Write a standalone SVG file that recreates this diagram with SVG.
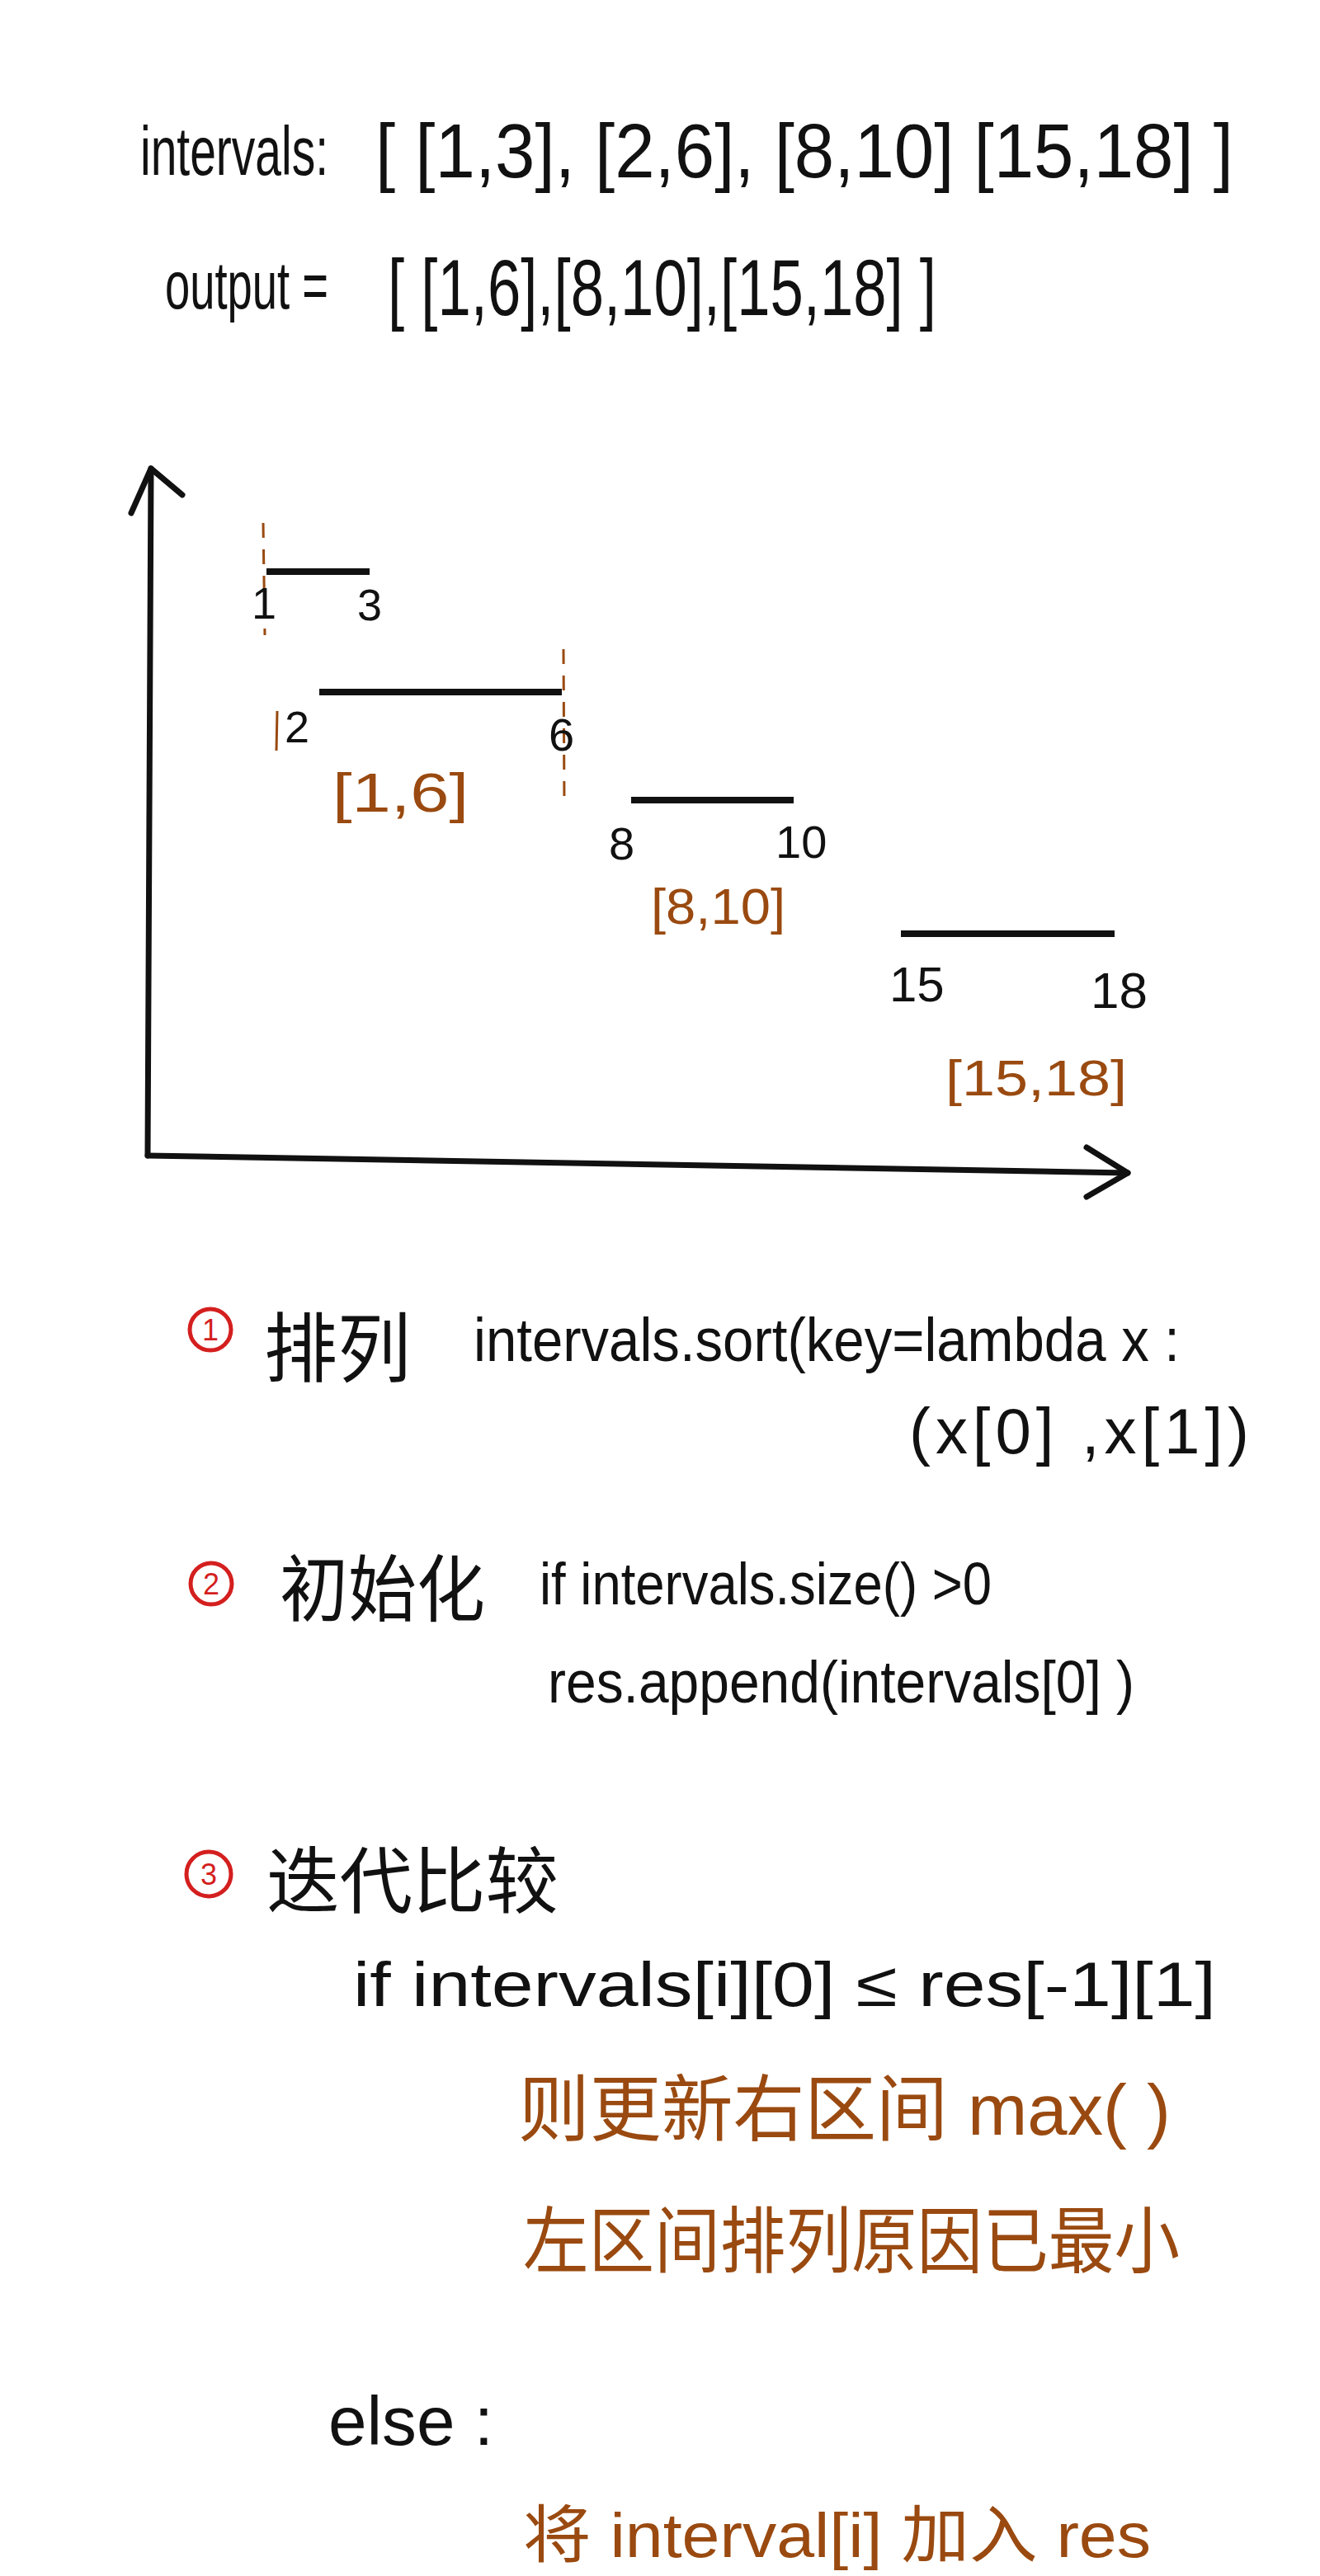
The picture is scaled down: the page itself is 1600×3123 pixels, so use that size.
<svg xmlns="http://www.w3.org/2000/svg" width="1600" height="3123" viewBox="0 0 1600 3123">
<style>
.t{font-family:"Liberation Sans","Noto Sans CJK SC",sans-serif;fill:#111}
.o{font-family:"Liberation Sans","Noto Sans CJK SC",sans-serif;fill:#9a4a10}
.r{fill:none;stroke:#d41f1f;stroke-width:5}
.rn{font-family:"Liberation Sans",sans-serif;fill:#d41f1f;font-size:36px;text-anchor:middle}
.ax{fill:none;stroke:#111;stroke-width:7;stroke-linecap:round;stroke-linejoin:round}
.seg{stroke:#111;stroke-width:8}
.dash{stroke:#9a4a10;stroke-width:3;stroke-dasharray:18 14}
</style>
<rect width="1600" height="3123" fill="#ffffff"/>
<g id="input">
<text class="t" transform="translate(170,212) scale(1,1.45)" x="0" y="0" font-size="57" textLength="228" lengthAdjust="spacingAndGlyphs">intervals:</text>
<text class="t" x="455" y="215" font-size="92" textLength="1040" lengthAdjust="spacingAndGlyphs">[ [1,3], [2,6], [8,10] [15,18] ]</text>
</g>
<g id="output">
<text class="t" transform="translate(200,374) scale(1,1.5)" x="0" y="0" font-size="54" textLength="198" lengthAdjust="spacingAndGlyphs">output =</text>
<text class="t" x="470" y="382" font-size="96" textLength="665" lengthAdjust="spacingAndGlyphs">[ [1,6],[8,10],[15,18] ]</text>
</g>
<g id="chart">
<polyline class="ax" points="179,1401 183,568"/>
<polyline class="ax" points="159,622 183,568 221,600"/>
<polyline class="ax" points="179,1401 1367,1422"/>
<polyline class="ax" points="1317,1391 1367,1422 1317,1451"/>
<line class="seg" x1="323" y1="693" x2="448" y2="693"/>
<line class="seg" x1="387" y1="839" x2="681" y2="839"/>
<line class="seg" x1="765" y1="970" x2="962" y2="970"/>
<line class="seg" x1="1092" y1="1132" x2="1351" y2="1132"/>
<line class="dash" x1="319" y1="634" x2="321" y2="770"/>
<line class="dash" x1="683" y1="787" x2="684" y2="976"/>
<line stroke="#9a4a10" stroke-width="3" x1="336" y1="862" x2="335" y2="910"/>
<text class="t" x="305" y="750" font-size="54">1</text>
<text class="t" x="433" y="752" font-size="54">3</text>
<text class="t" x="345" y="900" font-size="54">2</text>
<text class="t" x="665" y="910" font-size="56">6</text>
<text class="t" x="738" y="1042" font-size="56">8</text>
<text class="t" x="940" y="1040" font-size="56">10</text>
<text class="t" x="1078" y="1214" font-size="60">15</text>
<text class="t" x="1322" y="1222" font-size="62">18</text>
<text class="o" x="403" y="984" font-size="66" textLength="165" lengthAdjust="spacingAndGlyphs">[1,6]</text>
<text class="o" x="789" y="1120" font-size="62" textLength="163" lengthAdjust="spacingAndGlyphs">[8,10]</text>
<text class="o" x="1146" y="1328" font-size="62" textLength="220" lengthAdjust="spacingAndGlyphs">[15,18]</text>
</g>
<g id="step1">
<circle class="r" cx="255" cy="1612" r="25"/>
<text class="rn" x="255" y="1625">1</text>
<text class="t" x="320" y="1668" font-size="92" textLength="178" lengthAdjust="spacingAndGlyphs">排列</text>
<text class="t" x="574" y="1650" font-size="74" textLength="856" lengthAdjust="spacingAndGlyphs">intervals.sort(key=lambda x :</text>
<text class="t" x="1102" y="1762" font-size="78" textLength="412" lengthAdjust="spacing">(x[0] ,x[1])</text>
</g>
<g id="step2">
<circle class="r" cx="256" cy="1920" r="25"/>
<text class="rn" x="256" y="1933">2</text>
<text class="t" x="339" y="1958" font-size="88" textLength="249" lengthAdjust="spacingAndGlyphs">初始化</text>
<text class="t" x="654" y="1945" font-size="72" textLength="548" lengthAdjust="spacingAndGlyphs">if intervals.size() &gt;0</text>
<text class="t" x="664" y="2064" font-size="72" textLength="711" lengthAdjust="spacingAndGlyphs">res.append(intervals[0] )</text>
</g>
<g id="step3">
<circle class="r" cx="253" cy="2272" r="27"/>
<text class="rn" x="253" y="2285">3</text>
<text class="t" x="323" y="2312" font-size="88" textLength="354" lengthAdjust="spacingAndGlyphs">迭代比较</text>
<text class="t" x="428" y="2432" font-size="76" textLength="1046" lengthAdjust="spacingAndGlyphs">if intervals[i][0] ≤ res[-1][1]</text>
<text class="o" x="628" y="2588" font-size="88" textLength="791" lengthAdjust="spacingAndGlyphs">则更新右区间 max(   )</text>
<text class="o" x="634" y="2748" font-size="88" textLength="796" lengthAdjust="spacingAndGlyphs">左区间排列原因已最小</text>
<text class="t" x="398" y="2964" font-size="84" textLength="200" lengthAdjust="spacingAndGlyphs">else :</text>
<text class="o" x="634" y="3100" font-size="76" textLength="761" lengthAdjust="spacingAndGlyphs">将 interval[i] 加入 res</text>
</g>
</svg>
